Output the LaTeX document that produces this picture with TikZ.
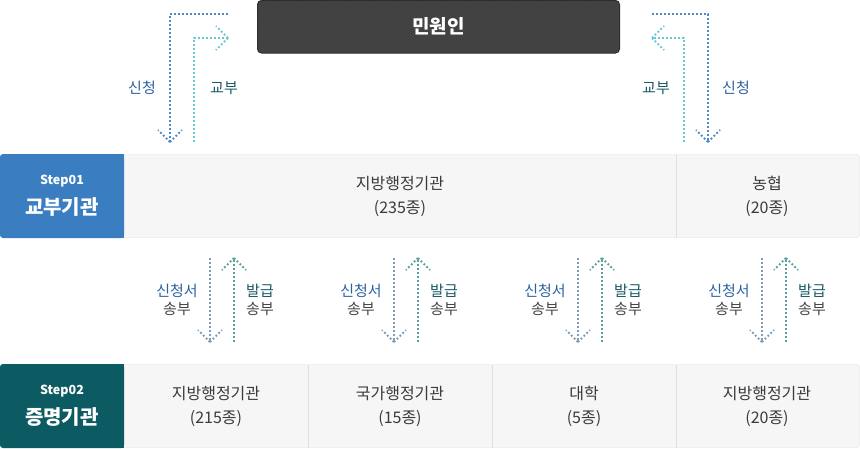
\documentclass[tikz,border=0pt]{standalone}
\usepackage{fontspec}
\setmainfont{Noto Sans CJK KR}
\usetikzlibrary{patterns}
\definecolor{stepblue}{HTML}{3A7DC0}
\definecolor{stepteal}{HTML}{0D5B62}
\definecolor{cellbg}{HTML}{F6F6F6}
\definecolor{cellline}{HTML}{E0E0E0}
\definecolor{txt}{HTML}{3A3A3A}
\definecolor{lblblue}{HTML}{2C62A0}
\definecolor{lblteal}{HTML}{1A5A66}
\definecolor{lblgray}{HTML}{444444}
\definecolor{arrblue}{HTML}{4A8ACB}
\definecolor{arrcyan}{HTML}{66C8D0}
\definecolor{midblue}{HTML}{7C9DBA}
\definecolor{midteal}{HTML}{5A9F9F}
\definecolor{mingray}{HTML}{474747}
\definecolor{minstripe}{HTML}{3A3A3A}
\definecolor{minborder}{HTML}{2E2E2E}
\tikzset{
  dotline/.style={line width=1.8pt, dash pattern=on 1.8pt off 2.2pt},
  celltext/.style={text=txt, font=\fontsize{16}{24}\selectfont, align=center, inner sep=0pt},
  smalllbl/.style={font=\fontsize{15}{18}\selectfont, align=center, inner sep=0pt},
  steptop/.style={text=white, font=\bfseries\fontsize{12.5}{14}\selectfont, inner sep=0pt},
  stepname/.style={text=white, font=\bfseries\fontsize{20}{22}\selectfont, inner sep=0pt},
}
\begin{document}
\begin{tikzpicture}[x=1pt,y=-1pt]
\useasboundingbox (0,0) rectangle (860,448);
\fill[white] (0,0) rectangle (860,448);

% 민원인
\path[fill=mingray, draw=minborder, line width=1pt, rounded corners=4pt] (257.5,0.5) rectangle (619.5,53);
\path[pattern=north east lines, pattern color=minstripe, rounded corners=4pt] (258,1) rectangle (619,52.5);
\node[text=white, font=\bfseries\fontsize{19}{20}\selectfont, inner sep=0pt] (minwon) at (438.5,26) {민원인};

% Row 1
\path[fill=cellbg, draw=cellline, rounded corners=3pt] (0.5,154.5) rectangle (859.5,237.5);
\fill[stepblue, rounded corners=3pt] (0,154) rectangle (124,238);
\fill[stepblue] (110,154) rectangle (124,238);
\draw[cellline] (676,154.5) -- (676,237.5);
\node[steptop] (s1a) at (62,181) {Step01};
\node[stepname] (s1b) at (62,207) {교부기관};
\node[celltext] (c11) at (400,196) {지방행정기관\\(235종)};
\node[celltext] (c12) at (767,196) {농협\\(20종)};

% Row 2
\path[fill=cellbg, draw=cellline, rounded corners=3pt] (0.5,364.5) rectangle (859.5,447.5);
\fill[stepteal, rounded corners=3pt] (0,364) rectangle (124,448);
\fill[stepteal] (110,364) rectangle (124,448);
\foreach \x in {308,492,676} \draw[cellline] (\x,364.5) -- (\x,447.5);
\node[steptop] (s2a) at (62,391) {Step02};
\node[stepname] (s2b) at (62,417) {증명기관};
\node[celltext] (c21) at (216,406) {지방행정기관\\(215종)};
\node[celltext] (c22) at (400,406) {국가행정기관\\(15종)};
\node[celltext] (c23) at (584,406) {대학\\(5종)};
\node[celltext] (c24) at (767,406) {지방행정기관\\(20종)};

% Top-left arrows
\coordinate (la1) at (228,14); \coordinate (la2) at (170,14); \coordinate (la3) at (170,142);
\draw[dotline, arrblue] (la1) -- (la2) -- (la3);
\draw[dotline, arrblue] (la3) -- ++(-12,-12) (la3) -- ++(12,-12);
\coordinate (lb1) at (194,142); \coordinate (lb2) at (194,38); \coordinate (lb3) at (228,38);
\draw[dotline, arrcyan] (lb1) -- (lb2) -- (lb3);
\draw[dotline, arrcyan] (lb3) -- ++(-12,-12) (lb3) -- ++(-12,12);
\node[smalllbl, text=lblblue] (lq1) at (142,88) {신청};
\node[smalllbl, text=lblteal] (lg1) at (224,88) {교부};

% Top-right arrows
\coordinate (ra1) at (652,14); \coordinate (ra2) at (708,14); \coordinate (ra3) at (708,142);
\draw[dotline, arrblue] (ra1) -- (ra2) -- (ra3);
\draw[dotline, arrblue] (ra3) -- ++(-12,-12) (ra3) -- ++(12,-12);
\coordinate (rb1) at (684,142); \coordinate (rb2) at (684,38); \coordinate (rb3) at (652,38);
\draw[dotline, arrcyan] (rb1) -- (rb2) -- (rb3);
\draw[dotline, arrcyan] (rb3) -- ++(12,-12) (rb3) -- ++(12,12);
\node[smalllbl, text=lblteal] (lg2) at (656,88) {교부};
\node[smalllbl, text=lblblue] (lq2) at (736,88) {신청};

% Middle arrows
\foreach \xc/\i in {210/1,394/2,578/3,762/4}{
  \coordinate (d\i a) at (\xc,258); \coordinate (d\i b) at (\xc,342);
  \draw[dotline, midblue] (d\i a) -- (d\i b);
  \draw[dotline, midblue] (d\i b) -- ++(-12,-12) (d\i b) -- ++(12,-12);
  \coordinate (u\i a) at (\xc+24,342); \coordinate (u\i b) at (\xc+24,258);
  \draw[dotline, midteal] (u\i a) -- (u\i b);
  \draw[dotline, midteal] (u\i b) -- ++(-12,12) (u\i b) -- ++(12,12);
  \node[smalllbl] (ml\i) at (\xc-33,300) {\textcolor{lblblue}{신청서}\\\textcolor{lblgray}{송부}};
  \node[smalllbl] (mr\i) at (\xc+50,300) {\textcolor{lblteal}{발급}\\\textcolor{lblgray}{송부}};
}
\end{tikzpicture}
\end{document}
